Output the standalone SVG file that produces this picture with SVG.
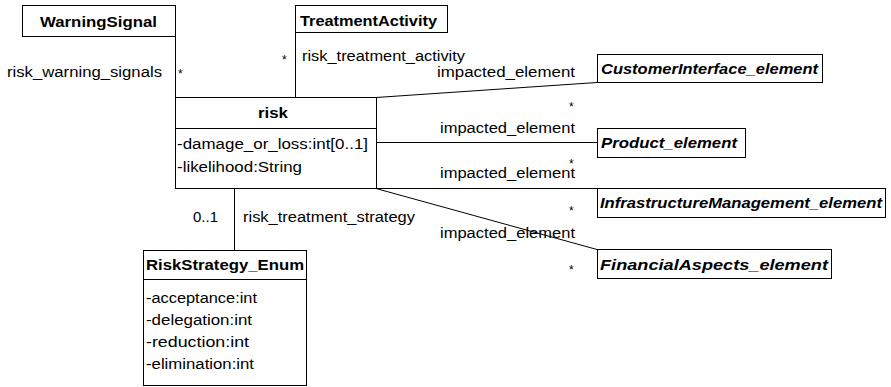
<svg xmlns="http://www.w3.org/2000/svg" width="891" height="387" viewBox="0 0 891 387">
<style>
.box{fill:#fff;stroke:#000;stroke-width:1}
.ln{stroke:#000;stroke-width:1;fill:none}
text{font-family:"Liberation Sans",Arial,sans-serif;fill:#000}
.t{font-size:15px;font-weight:bold}
.ti{font-size:15px;font-weight:bold;font-style:italic}
.a{font-size:14px}
.s{font-size:12px}
</style>
<rect width="891" height="387" fill="#fff"/>
<g id="connectors">
<line class="ln" x1="175.5" y1="36" x2="175.5" y2="97"/>
<line class="ln" x1="295.5" y1="32" x2="295.5" y2="97"/>
<line class="ln" x1="234.5" y1="188" x2="234.5" y2="250"/>
<line class="ln" x1="376" y1="97.5" x2="597" y2="82.5"/>
<line class="ln" x1="376" y1="142.5" x2="597" y2="142.5"/>
<line class="ln" x1="376" y1="188.5" x2="597" y2="188.5"/>
<line class="ln" x1="376" y1="188.5" x2="597" y2="249.5"/>
<text class="a" x="7" y="77" textLength="155" lengthAdjust="spacingAndGlyphs">risk_warning_signals</text>
<text class="s" x="178" y="78">*</text>
<text class="s" x="282" y="64">*</text>
<text class="a" x="302" y="61" textLength="163" lengthAdjust="spacingAndGlyphs">risk_treatment_activity</text>
<text class="a" x="437" y="77" textLength="138" lengthAdjust="spacingAndGlyphs">impacted_element</text>
<text class="s" x="569" y="111">*</text>
<text class="a" x="440" y="133" textLength="135" lengthAdjust="spacingAndGlyphs">impacted_element</text>
<text class="s" x="569" y="168">*</text>
<text class="a" x="440" y="178" textLength="135" lengthAdjust="spacingAndGlyphs">impacted_element</text>
<text class="s" x="569" y="215">*</text>
<text class="a" x="440" y="238" textLength="135" lengthAdjust="spacingAndGlyphs">impacted_element</text>
<text class="s" x="569" y="274">*</text>
<text class="a" x="193" y="222" textLength="25" lengthAdjust="spacingAndGlyphs">0..1</text>
<text class="a" x="243" y="222" textLength="172" lengthAdjust="spacingAndGlyphs">risk_treatment_strategy</text>
</g>
<g id="WarningSignal">
<rect class="box" x="22.5" y="5.5" width="153" height="31"/>
<text class="t" x="40" y="27" textLength="117" lengthAdjust="spacingAndGlyphs">WarningSignal</text>
</g>
<g id="TreatmentActivity">
<rect class="box" x="295.5" y="5.5" width="152" height="27"/>
<text class="t" x="300" y="26" textLength="137" lengthAdjust="spacingAndGlyphs">TreatmentActivity</text>
</g>
<g id="risk">
<rect class="box" x="175.5" y="97.5" width="201" height="91"/>
<line class="ln" x1="175.5" y1="128.5" x2="376.5" y2="128.5"/>
<text class="t" x="258" y="118" textLength="30" lengthAdjust="spacingAndGlyphs">risk</text>
<text class="a" x="177" y="149" textLength="191" lengthAdjust="spacingAndGlyphs">-damage_or_loss:int[0..1]</text>
<text class="a" x="177" y="172" textLength="125" lengthAdjust="spacingAndGlyphs">-likelihood:String</text>
</g>
<g id="RiskStrategy_Enum">
<rect class="box" x="143.5" y="250.5" width="163" height="135"/>
<line class="ln" x1="143.5" y1="279.5" x2="306.5" y2="279.5"/>
<text class="t" x="146" y="270" textLength="158" lengthAdjust="spacingAndGlyphs">RiskStrategy_Enum</text>
<text class="a" x="146" y="303" textLength="111" lengthAdjust="spacingAndGlyphs">-acceptance:int</text>
<text class="a" x="146" y="325" textLength="106" lengthAdjust="spacingAndGlyphs">-delegation:int</text>
<text class="a" x="146" y="347" textLength="103" lengthAdjust="spacingAndGlyphs">-reduction:int</text>
<text class="a" x="146" y="369" textLength="108" lengthAdjust="spacingAndGlyphs">-elimination:int</text>
</g>
<g id="CustomerInterface_element">
<rect class="box" x="597.5" y="54.5" width="225" height="28"/>
<text class="ti" x="601" y="74" textLength="217" lengthAdjust="spacingAndGlyphs">CustomerInterface_element</text>
</g>
<g id="Product_element">
<rect class="box" x="597.5" y="128.5" width="148" height="29"/>
<text class="ti" x="601" y="148" textLength="136" lengthAdjust="spacingAndGlyphs">Product_element</text>
</g>
<g id="InfrastructureManagement_element">
<rect class="box" x="597.5" y="188.5" width="288" height="29"/>
<text class="ti" x="600" y="208" textLength="282" lengthAdjust="spacingAndGlyphs">InfrastructureManagement_element</text>
</g>
<g id="FinancialAspects_element">
<rect class="box" x="597.5" y="249.5" width="234" height="29"/>
<text class="ti" x="600" y="270" textLength="228" lengthAdjust="spacingAndGlyphs">FinancialAspects_element</text>
</g>
</svg>
